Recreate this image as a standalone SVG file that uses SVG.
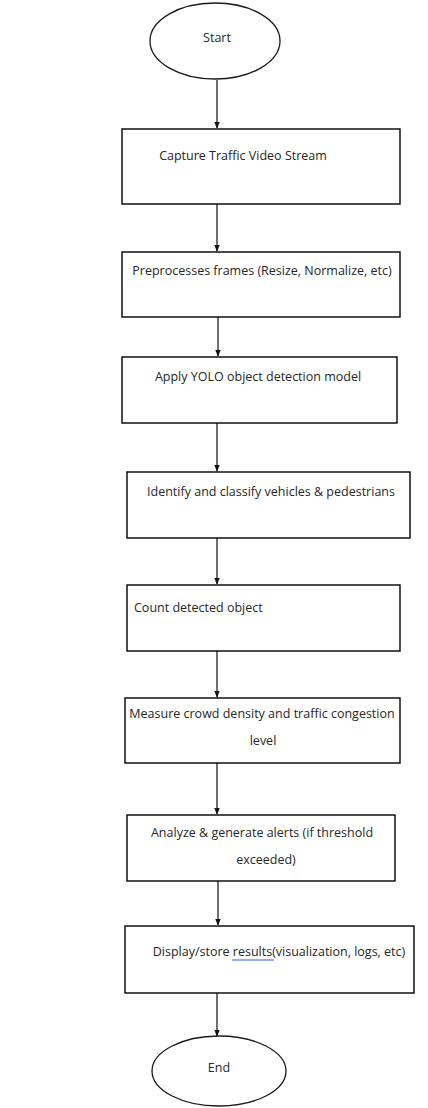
<svg xmlns="http://www.w3.org/2000/svg" width="428" height="1108" viewBox="0 0 428 1108">
  <style>
    .box { fill: #ffffff; stroke: #000000; stroke-width: 1.4; }
    .term { fill: #ffffff; stroke: #1a1a1a; stroke-width: 1.3; }
    .lbl { font-family: "Open Sans", "Noto Sans", sans-serif; font-size: 12.5px; fill: #262626; }
    .mid { text-anchor: middle; }
    .flow { stroke: #333333; stroke-width: 1.4; fill: none; marker-end: url(#head); }
  </style>
  <defs>
    <marker id="head" viewBox="0 0 10 10" refX="9" refY="5" markerWidth="7" markerHeight="7" markerUnits="userSpaceOnUse" orient="auto">
      <path d="M0,1 L10,5 L0,9 Z" fill="#111111"/>
    </marker>
  </defs>
  <rect width="428" height="1108" fill="#ffffff"/>

  <g id="connectors">
    <line class="flow" x1="217" y1="80" x2="217" y2="128"/>
    <line class="flow" x1="217" y1="204" x2="217" y2="251"/>
    <line class="flow" x1="218" y1="317" x2="218" y2="356"/>
    <line class="flow" x1="217" y1="423" x2="217" y2="471"/>
    <line class="flow" x1="217" y1="538" x2="217" y2="584"/>
    <line class="flow" x1="217" y1="651" x2="217" y2="697"/>
    <line class="flow" x1="217" y1="763" x2="217" y2="814"/>
    <line class="flow" x1="218" y1="881" x2="218" y2="925"/>
    <line class="flow" x1="217" y1="993" x2="217" y2="1036"/>
  </g>

  <g id="start">
    <ellipse class="term" cx="215" cy="41" rx="65" ry="38"/>
    <text class="lbl mid" x="217" y="42">Start</text>
  </g>

  <g id="capture">
    <rect class="box" x="122" y="129" width="278" height="75"/>
    <text class="lbl mid" x="243" y="160">Capture Traffic Video Stream</text>
  </g>

  <g id="preprocess">
    <rect class="box" x="122" y="252" width="278" height="65"/>
    <text class="lbl mid" x="262" y="275">Preprocesses frames (Resize, Normalize, etc)</text>
  </g>

  <g id="detect">
    <rect class="box" x="122" y="357" width="275" height="66"/>
    <text class="lbl mid" x="258" y="381">Apply YOLO object detection model</text>
  </g>

  <g id="classify">
    <rect class="box" x="127" y="472" width="283" height="66"/>
    <text class="lbl mid" x="271" y="496">Identify and classify vehicles &amp; pedestrians</text>
  </g>

  <g id="count">
    <rect class="box" x="127" y="585" width="273" height="66"/>
    <text class="lbl" x="134" y="612">Count detected object</text>
  </g>

  <g id="measure">
    <rect class="box" x="125" y="698" width="275" height="65"/>
    <text class="lbl mid" x="262" y="718">Measure crowd density and traffic congestion</text>
    <text class="lbl mid" x="263" y="745">level</text>
  </g>

  <g id="analyze">
    <rect class="box" x="127" y="815" width="268" height="66"/>
    <text class="lbl mid" x="262" y="837">Analyze &amp; generate alerts (if threshold</text>
    <text class="lbl mid" x="266" y="864">exceeded)</text>
  </g>

  <g id="display">
    <rect class="box" x="125" y="926" width="289" height="67"/>
    <text class="lbl mid" x="279" y="956">Display/store results(visualization, logs, etc)</text>
    <!-- blue spell-check underline beneath "results" -->
    <line x1="232" y1="960" x2="274" y2="960" stroke="#2b5fd9" stroke-width="1.2"/>
  </g>

  <g id="end">
    <ellipse class="term" cx="219" cy="1071" rx="67" ry="35"/>
    <text class="lbl mid" x="219" y="1072">End</text>
  </g>
</svg>
